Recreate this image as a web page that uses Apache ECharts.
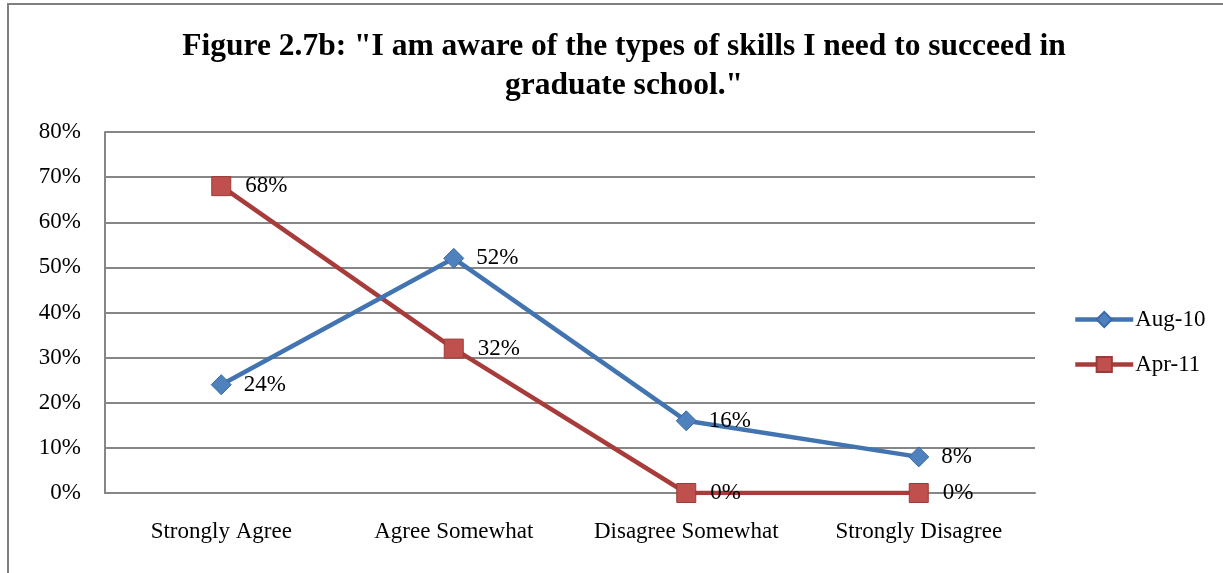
<!DOCTYPE html>
<html>
<head>
    <meta charset="utf-8">
    <title>Figure 2.7b</title>
    <style>
        html, body { margin: 0; padding: 0; background: #fff; }
        #main { width: 1223px; height: 573px; }
    </style>
</head>
<body>
<div id="main"></div>
<script src="https://cdn.jsdelivr.net/npm/echarts@6/dist/echarts.min.js"></script>
<script>
    // data
    var categories = ['Strongly Agree', 'Agree Somewhat', 'Disagree Somewhat', 'Strongly Disagree'];
    var aug10 = [24, 52, 16, 8];
    var apr11 = [68, 32, 0, 0];
    var seriesNames = ['Aug-10', 'Apr-11'];

    var font = '"Liberation Serif", "DejaVu Serif", serif';
    var chart = echarts.init(document.getElementById('main'));

    chart.setOption({
        animation: false,
        textStyle: { fontFamily: font },
        title: {
            text: 'Figure 2.7b: "I am aware of the types of skills I need to succeed in\ngraduate school."',
            left: 619,
            textAlign: 'center',
            top: 22,
            textStyle: { fontFamily: font, fontSize: 31.5, fontWeight: 'bold', color: '#000', lineHeight: 39 }
        },
        // outer chart frame (only left and top visible in the picture)
        graphic: [{
            type: 'rect',
            shape: { x: 8, y: 4, width: 1400, height: 800 },
            style: { fill: 'none', stroke: '#7f7f7f', lineWidth: 2 },
            silent: true
        }],
        legend: {
            orient: 'vertical',
            left: 1068,
            top: 303,
            itemGap: 22,
            itemWidth: 58,
            itemHeight: 19,
            data: seriesNames,
            lineStyle: { width: 4.5 },
            textStyle: { fontFamily: font, fontSize: 23, color: '#000', padding: [0, 0, 0, -3] }
        },
        grid: { left: 105, right: 188, top: 132, bottom: 80 },
        xAxis: {
            type: 'category',
            data: categories,
            boundaryGap: true,
            axisLine: { lineStyle: { color: '#868686', width: 2 } },
            axisTick: { show: false },
            axisLabel: { interval: 0, color: '#000', fontSize: 23, margin: 27, fontFamily: font }
        },
        yAxis: {
            type: 'value',
            min: 0,
            max: 80,
            interval: 10,
            axisLine: { show: true, lineStyle: { color: '#868686', width: 2 } },
            axisTick: { show: false },
            splitLine: { lineStyle: { color: '#868686', width: 2 } },
            axisLabel: { formatter: '{value}%', color: '#000', fontSize: 23, margin: 24, fontFamily: font }
        },
        series: [{
            name: seriesNames[0],
            type: 'line',
            data: aug10,
            symbol: 'diamond',
            symbolSize: 20,
            lineStyle: { color: '#4174b0', width: 4.5 },
            itemStyle: { color: '#4f81bd', borderColor: '#3a6aa5', borderWidth: 1 },
            label: {
                show: true, position: 'right', distance: 12,
                formatter: '{c}%', color: '#000', fontSize: 23, fontFamily: font
            },
            z: 3
        }, {
            name: seriesNames[1],
            type: 'line',
            data: apr11,
            symbol: 'rect',
            symbolSize: 19,
            lineStyle: { color: '#a83c3a', width: 4.5 },
            itemStyle: { color: '#c0504d', borderColor: '#9a3b38', borderWidth: 1 },
            label: {
                show: true, position: 'right', distance: 14,
                formatter: '{c}%', color: '#000', fontSize: 23, fontFamily: font
            },
            z: 2
        }]
    });
</script>
</body>
</html>
